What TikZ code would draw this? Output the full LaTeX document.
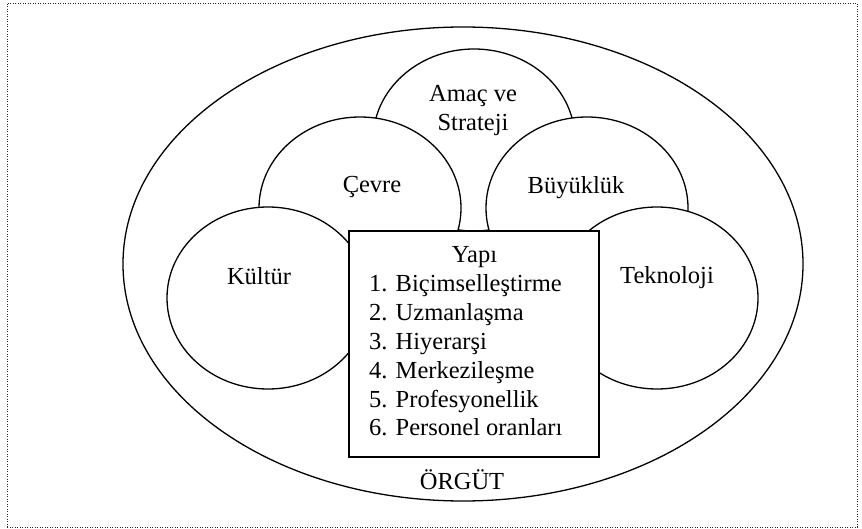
\documentclass[tikz,border=0pt]{standalone}
\usepackage{fontspec}
\setmainfont{Liberation Serif}
\usetikzlibrary{shapes.geometric}
\begin{document}
\begin{tikzpicture}[x=1pt,y=-1pt,
  blob/.style={ellipse,draw=black,fill=white,line width=1.3pt,
    minimum width=202pt,minimum height=182pt,inner sep=0pt,outer sep=0pt},
  lbl/.style={anchor=base,inner sep=0pt,font=\fontsize{24.5}{29}\selectfont},
  item/.style={anchor=base west,inner sep=0pt,font=\fontsize{24.5}{29}\selectfont}]
\useasboundingbox (0,0) rectangle (862,529);
% dotted frame
\node[draw=black!85,line width=0.9pt,dash pattern=on 0.9pt off 1.6pt,
  rectangle,inner sep=0pt,minimum width=850pt,minimum height=524pt] (frame) at (432.3,265) {};
% organisation
\node[ellipse,draw=black,line width=1.3pt,fill=white,inner sep=0pt,
  minimum width=680pt,minimum height=474pt] (orgut) at (463,264) {};
% contingency factors, back to front
\node[blob] (amac) at (474,140) {};
\node[blob] (cevre) at (360,208) {};
\node[blob] (buyukluk) at (587,208) {};
\node[blob] (kultur) at (268,298) {};
\node[blob] (teknoloji) at (657,298) {};
% structure box
\node[rectangle,draw=black,fill=white,line width=1.5pt,inner sep=0pt,
  minimum width=250pt,minimum height=226pt] (yapibox) at (474,344) {};
% labels
\node[lbl] (tamac) at (473,102) {Amaç ve};
\node[lbl] (tstrateji) at (473,131) {Strateji};
\node[lbl] (tcevre) at (372,193) {Çevre};
\node[lbl] (tbuyukluk) at (576,194) {Büyüklük};
\node[lbl] (tkultur) at (259,285) {Kültür};
\node[lbl] (tteknoloji) at (667,284) {Teknoloji};
\node[lbl] (tyapi) at (474.5,263) {Yapı};
\node[item] (l1) at (369,291.8) {1. Biçimselleştirme};
\node[item] (l2) at (369,320.6) {2. Uzmanlaşma};
\node[item] (l3) at (369,349.4) {3. Hiyerarşi};
\node[item] (l4) at (369,378.2) {4. Merkezileşme};
\node[item] (l5) at (369,407) {5. Profesyonellik};
\node[item] (l6) at (369,435.8) {6. Personel oranları};
\node[lbl] (torgut) at (462,489) {ÖRGÜT};
\end{tikzpicture}
\end{document}
